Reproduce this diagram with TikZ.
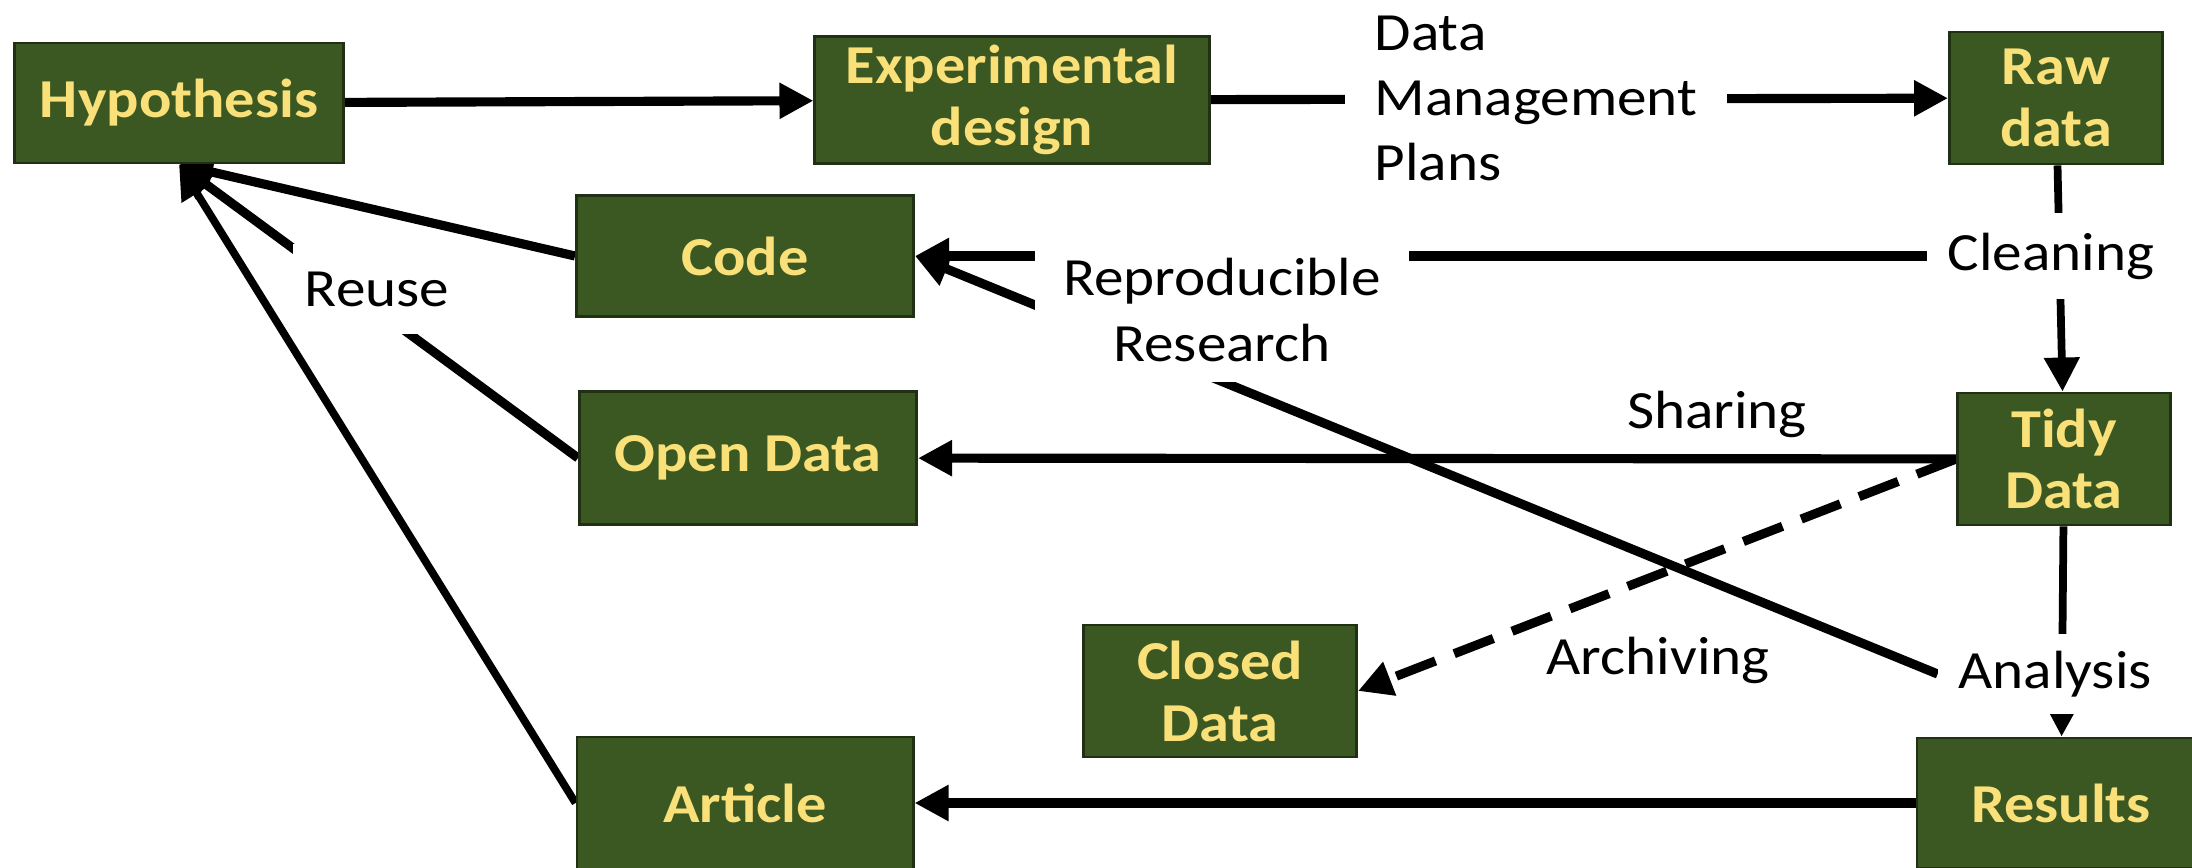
\documentclass[tikz,border=0pt]{standalone}
\usepackage{fontspec}
\setmainfont{Carlito}[FakeStretch=1.1]
\usetikzlibrary{arrows.meta}
\definecolor{boxgreen}{RGB}{60,88,34}
\definecolor{boxedge}{RGB}{32,48,20}
\definecolor{boxtext}{RGB}{250,224,120}
\pgfdeclarelayer{paper}
\pgfdeclarelayer{wires}
\pgfsetlayers{paper,wires,main}
\tikzset{
  stage/.style={draw=boxedge, line width=0.8pt, fill=boxgreen, text=boxtext,
    font=\bfseries\fontsize{15.6}{17.6}\selectfont, align=center, inner sep=0pt},
  gap/.style={fill=white, inner sep=0.2cm, font=\fontsize{15.3}{18.5}\selectfont},
  note/.style={font=\fontsize{15.3}{18.5}\selectfont},
  flow/.style={line width=2.6pt, -{Triangle[length=0.34cm,width=0.34cm]}},
}

\begin{document}
\begin{tikzpicture}[x=0.01cm, y=-0.01cm]
  \begin{pgfonlayer}{paper}
    \fill[white] (0,0) rectangle (2192,867);
  \end{pgfonlayer}
  \useasboundingbox (0,0) rectangle (2192,867);

  \node[stage, minimum width=3.28cm, minimum height=1.2cm] (hyp) at (179,103) {Hypothesis};
  \node[stage, minimum width=3.94cm, minimum height=1.27cm] (exp) at (1012,100) {Experimental\\design};
  \node[stage, minimum width=2.13cm, minimum height=1.32cm] (raw) at (2056,98) {Raw\\data};
  \node[stage, minimum width=3.37cm, minimum height=1.21cm] (code) at (745,256) {Code};
  \node[stage, minimum width=3.37cm, minimum height=1.33cm] (open) at (748,458) {Open Data};
  \node[stage, minimum width=2.13cm, minimum height=1.32cm] (tidy) at (2064,459) {Tidy\\Data};
  \node[stage, minimum width=2.73cm, minimum height=1.32cm] (closed) at (1220,691) {Closed\\Data};
  \node[stage, minimum width=3.36cm, minimum height=1.32cm] (article) at (745,803) {Article};
  \node[stage, minimum width=2.88cm, minimum height=1.3cm] (results) at (2061,803) {Results};

  % labels sitting on the lines
  \node[gap, anchor=west, inner xsep=0.3cm, align=left] (dmp) at (1344,98) {Data\\Management\\Plans};
  \node[gap] (clean) at (2051,256) {Cleaning};
  \node[gap, align=center, minimum width=3.74cm, minimum height=1.44cm, inner sep=0pt] (repro) at (1222,310) {Reproducible\\Research};
  \node[gap, inner xsep=0.12cm, inner ysep=0.28cm] (reuse) at (377,289) {Reuse};
  \node[gap, inner ysep=0.17cm] (analysis) at (2055,674) {Analysis};
  \node[note] (share) at (1717,414) {Sharing};
  \node[note] (archive) at (1658,660) {Archiving};

  \begin{pgfonlayer}{wires}
    \draw[flow] (hyp) -- (exp);
    \draw[flow] (exp) -- (raw);
    \draw[flow, line width=2.2pt] (raw) -- (tidy);
    \draw[flow] (clean) -- (code);
    \draw[flow] (tidy) -- (open);
    \draw[flow, dash pattern=on 0.42cm off 0.2cm] (tidy.west) -- (closed.east);
    \draw[flow, line width=2.2pt] (tidy) -- (results);
    \draw[flow] (analysis.west) -- (code.east);
    \draw[flow] (results) -- (article);
    \draw[flow] (code.west) -- (hyp.south);
    \draw[flow] (open.west) -- (hyp.south);
    \draw[flow, line width=2.2pt] (article.west) -- (hyp.south);
  \end{pgfonlayer}
\end{tikzpicture}
\end{document}
